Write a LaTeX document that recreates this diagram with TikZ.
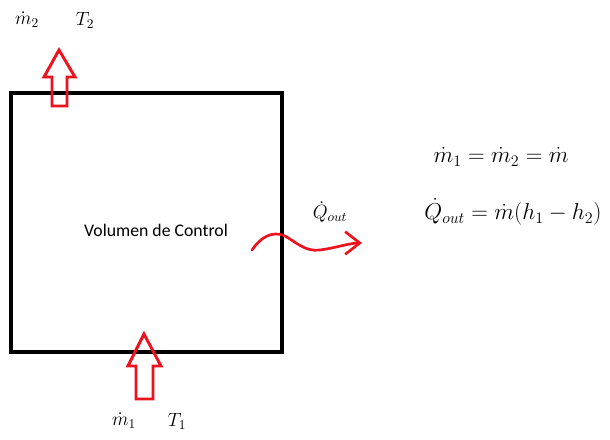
\documentclass[tikz,border=0pt]{standalone}
\usepackage{fontspec}
\newfontfamily\calib{Carlito}
\usetikzlibrary{arrows.meta}
\definecolor{arrred}{RGB}{235,20,30}
\tikzset{
  cvbox/.style={draw=black,line width=2.3pt},
  blockarrow/.style={draw=arrred,line width=2.2pt,line join=miter},
  heatarrow/.style={draw=arrred,line width=2pt,line cap=round,-{Straight Barb[length=11pt,width=17pt,line width=2pt]}},
  lbl/.style={inner sep=0pt,font=\fontsize{14.5}{17}\selectfont},
  eqn/.style={inner sep=0pt,font=\fontsize{17.5}{20}\selectfont}
}
\begin{document}
\begin{tikzpicture}[x=0.75pt,y=-0.75pt]
\useasboundingbox (0,0) rectangle (610,439);
% control volume
\draw[cvbox] (11,93) rectangle (282,352);
\node[inner sep=0pt,font=\calib\fontsize{13.3}{16}\selectfont] (cv) at (156,230) {Volumen de Control};
% outlet arrow (top)
\draw[blockarrow] (59,50) -- (75,77) -- (67,77) -- (67,106) -- (52,106) -- (52,77) -- (44,77) -- cycle;
% inlet arrow (bottom)
\draw[blockarrow] (144,334) -- (161,366) -- (153,366) -- (153,399) -- (136,399) -- (136,366) -- (128,366) -- cycle;
% labels
\node[lbl] (m2) at (27,20) {$\dot m_2$};
\node[lbl] (T2) at (85,20) {$T_2$};
\node[lbl] (m1) at (124,421) {$\dot m_1$};
\node[lbl] (T1) at (177,421) {$T_1$};
% heat out
\coordinate (hs) at (252,250);
\coordinate (he) at (362,243);
\draw[heatarrow] (hs) .. controls (260,238) and (272,230) .. (285,236)
  .. controls (296,242) and (305,252) .. (320,250)
  .. controls (335,248) and (350,243) .. (he);
\node[lbl] (Q) at (330,212) {$\dot Q_{out}$};
% equations
\node[eqn] (eq1) at (501,157) {$\dot m_1 = \dot m_2 = \dot m$};
\node[eqn] (eq2) at (513,212) {$\dot Q_{out} = \dot m(h_1 - h_2)$};
\end{tikzpicture}
\end{document}
